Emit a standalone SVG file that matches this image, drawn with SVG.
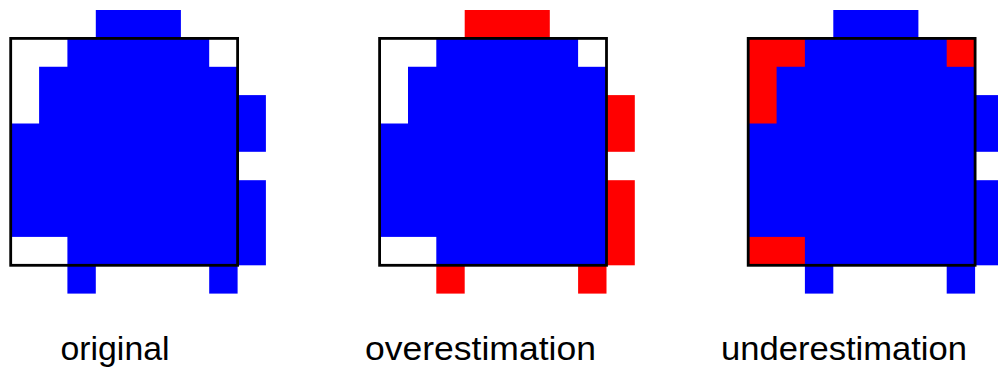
<svg xmlns="http://www.w3.org/2000/svg" width="998" height="367" viewBox="0 0 998 367">
<style>
.b{fill:#0000ff}
.r{fill:#ff0000}
.w{fill:#ffffff}
.frame{fill:none;stroke:#000000;stroke-width:2.8}
.lbl{font-family:"Liberation Sans",Arial,sans-serif;font-size:33px;fill:#000000}
</style>
<defs>
<path id="ell" d="M0,0H56.7V28.4H28.4V85.1H0Z"/>
</defs>
<rect width="998" height="367" fill="#ffffff"/>
<g id="original" transform="translate(10.7,38.4)">
<rect class="b" x="0" y="0" width="226.9" height="226.9"/>
<use href="#ell" class="w"/>
<rect class="w" x="198.5" y="0" width="28.4" height="28.4"/>
<rect class="w" x="0" y="198.5" width="56.7" height="28.4"/>
<rect class="b" x="85.1" y="-28.4" width="85.1" height="28.5"/>
<rect class="b" x="226.8" y="56.7" width="28.4" height="56.7"/>
<rect class="b" x="226.8" y="141.8" width="28.4" height="85.1"/>
<rect class="b" x="56.7" y="226.8" width="28.4" height="28.4"/>
<rect class="b" x="198.5" y="226.8" width="28.4" height="28.4"/>
<rect class="frame" x="0" y="0" width="226.9" height="226.9"/>
</g>
<g id="overestimation" transform="translate(379.6,38.4)">
<rect class="b" x="0" y="0" width="226.9" height="226.9"/>
<use href="#ell" class="w"/>
<rect class="w" x="198.5" y="0" width="28.4" height="28.4"/>
<rect class="w" x="0" y="198.5" width="56.7" height="28.4"/>
<rect class="r" x="85.1" y="-28.4" width="85.1" height="28.5"/>
<rect class="r" x="226.8" y="56.7" width="28.4" height="56.7"/>
<rect class="r" x="226.8" y="141.8" width="28.4" height="85.1"/>
<rect class="r" x="56.7" y="226.8" width="28.4" height="28.4"/>
<rect class="r" x="198.5" y="226.8" width="28.4" height="28.4"/>
<rect class="frame" x="0" y="0" width="226.9" height="226.9"/>
</g>
<g id="underestimation" transform="translate(748.2,38.4)">
<rect class="b" x="0" y="0" width="226.9" height="226.9"/>
<use href="#ell" class="r"/>
<rect class="r" x="198.5" y="0" width="28.4" height="28.4"/>
<rect class="r" x="0" y="198.5" width="56.7" height="28.4"/>
<rect class="b" x="85.1" y="-28.4" width="85.1" height="28.5"/>
<rect class="b" x="226.8" y="56.7" width="28.4" height="56.7"/>
<rect class="b" x="226.8" y="141.8" width="28.4" height="85.1"/>
<rect class="b" x="56.7" y="226.8" width="28.4" height="28.4"/>
<rect class="b" x="198.5" y="226.8" width="28.4" height="28.4"/>
<rect class="frame" x="0" y="0" width="226.9" height="226.9"/>
</g>
<g id="labels">
<text class="lbl" x="60.5" y="359.5" textLength="109" lengthAdjust="spacingAndGlyphs">original</text>
<text class="lbl" x="365" y="359.5" textLength="231" lengthAdjust="spacingAndGlyphs">overestimation</text>
<text class="lbl" x="721" y="359.5" textLength="246" lengthAdjust="spacingAndGlyphs">underestimation</text>
</g>
</svg>
